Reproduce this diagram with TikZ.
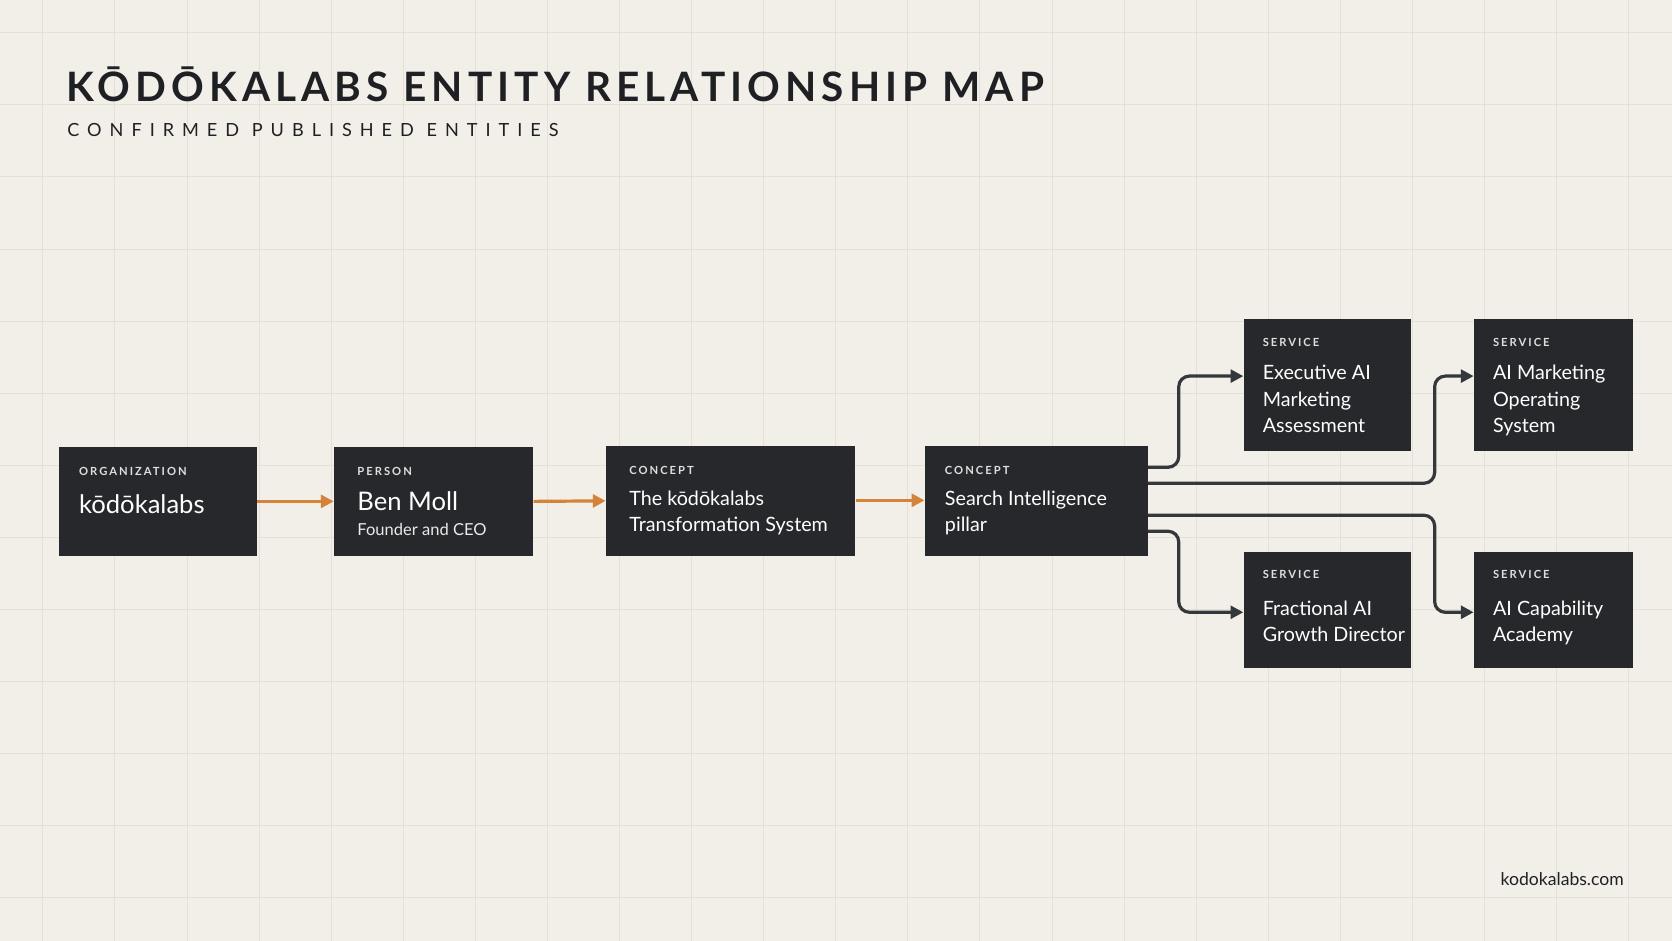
\documentclass[tikz,border=0pt]{standalone}
\usepackage{fontspec}
\setmainfont{Lato}
\usetikzlibrary{arrows.meta, positioning, calc}
\definecolor{kbpaper}{HTML}{F2EFE9}
\definecolor{kbgrid}{HTML}{E4E0D8}
\definecolor{kbbox}{HTML}{26282B}
\definecolor{kbink}{HTML}{1E2023}
\definecolor{kborange}{HTML}{D6833A}
\definecolor{kbline}{HTML}{34373B}
\begin{document}
\begin{tikzpicture}[x=1pt, y=-1pt,
    entity/.style={rectangle, fill=kbbox, draw=none, anchor=north west, inner sep=0pt},
    tag/.style={anchor=north west, inner sep=0pt, text=white!85!kbbox, font={\fontsize{10.5}{12}\selectfont\bfseries\addfontfeatures{LetterSpace=18}}},
    entname/.style={anchor=north west, inner sep=0pt, text=white, align=left, font={\fontsize{18.5}{25}\selectfont}},
    flow/.style={-{Triangle[length=12pt, width=12pt]}, line width=3pt, color=kborange},
    link/.style={-{Triangle[length=12pt, width=12pt]}, line width=3pt, color=kbline, rounded corners=10pt}
]
\useasboundingbox (0,0) rectangle (1568,882);
\fill[kbpaper] (0,0) rectangle (1568,882);
\foreach \gx in {40,107.6,...,1568} \draw[kbgrid, line width=0.6pt] (\gx,0) -- (\gx,882);
\foreach \gy in {30.6,98.2,...,882} \draw[kbgrid, line width=0.6pt] (0,\gy) -- (1568,\gy);

% Title
\node[anchor=base west, inner sep=0pt, text=kbink, font={\fontsize{38}{40}\selectfont\bfseries\addfontfeatures{LetterSpace=12.5}}] (title) at (62,95) {KŌDŌKALABS ENTITY RELATIONSHIP MAP};
\node[anchor=base west, inner sep=0pt, text=kbink, font={\fontsize{17}{20}\selectfont\addfontfeatures{LetterSpace=44}}] (subtitle) at (63,128) {CONFIRMED PUBLISHED ENTITIES};

% Entities
\node[entity, minimum width=186pt, minimum height=102pt] (org) at (55,419) {};
\node[entity, minimum width=187pt, minimum height=102pt] (person) at (313,419) {};
\node[entity, minimum width=234pt, minimum height=103pt] (system) at (568,418) {};
\node[entity, minimum width=209pt, minimum height=103pt] (pillar) at (867,418) {};
\node[entity, minimum width=157pt, minimum height=124pt] (assess) at (1166,299) {};
\node[entity, minimum width=149pt, minimum height=124pt] (aimos) at (1382,299) {};
\node[entity, minimum width=157pt, minimum height=109pt] (director) at (1166,517) {};
\node[entity, minimum width=149pt, minimum height=109pt] (academy) at (1382,517) {};

\node[tag] at ([shift={(19,19)}]org.north west) {ORGANIZATION};
\node[entname, font={\fontsize{24}{28}\selectfont}] at ([shift={(19,45)}]org.north west) {kōdōkalabs};
\node[tag] at ([shift={(22,19)}]person.north west) {PERSON};
\node[entname, font={\fontsize{24}{28}\selectfont}] at ([shift={(22,42)}]person.north west) {Ben Moll};
\node[entname, font={\fontsize{15.5}{18}\selectfont}, text=white!90!kbbox] at ([shift={(22,72)}]person.north west) {Founder and CEO};
\node[tag] at ([shift={(22,19)}]system.north west) {CONCEPT};
\node[entname] at ([shift={(22,42)}]system.north west) {The kōdōkalabs\\Transformation System};
\node[tag] at ([shift={(19,19)}]pillar.north west) {CONCEPT};
\node[entname] at ([shift={(19,42)}]pillar.north west) {Search Intelligence\\pillar};
\node[tag] at ([shift={(18,18)}]assess.north west) {SERVICE};
\node[entname] at ([shift={(18,43)}]assess.north west) {Executive AI\\Marketing\\Assessment};
\node[tag] at ([shift={(18,18)}]aimos.north west) {SERVICE};
\node[entname] at ([shift={(18,43)}]aimos.north west) {AI Marketing\\Operating\\System};
\node[tag] at ([shift={(18,18)}]director.north west) {SERVICE};
\node[entname] at ([shift={(18,46)}]director.north west) {Fractional AI\\Growth Director};
\node[tag] at ([shift={(18,18)}]academy.north west) {SERVICE};
\node[entname] at ([shift={(18,46)}]academy.north west) {AI Capability\\Academy};

% Main chain
\draw[flow] (org.east) -- (person.west);
\draw[flow] (person.east) -- (system.west);
\draw[flow] ([yshift=0.5pt]system.east) -- ([yshift=0.5pt]pillar.west);

% Branches to services
\draw[link] ([yshift=31.5pt]pillar.east) -- ++(29,0) |- ([yshift=8.5pt]assess.west);
\draw[link] ([yshift=16.5pt]pillar.east) -- ++(269,0) |- ([yshift=8.5pt]aimos.west);
\draw[link] ([yshift=-13.5pt]pillar.east) -- ++(269,0) |- ([yshift=-2.5pt]academy.west);
\draw[link] ([yshift=-28.5pt]pillar.east) -- ++(29,0) |- ([yshift=-2.5pt]director.west);

% Footer
\node[anchor=base east, inner sep=0pt, text=kbink, font={\fontsize{16.5}{20}\selectfont}] (site) at (1523,830) {kodokalabs.com};
\end{tikzpicture}
\end{document}
